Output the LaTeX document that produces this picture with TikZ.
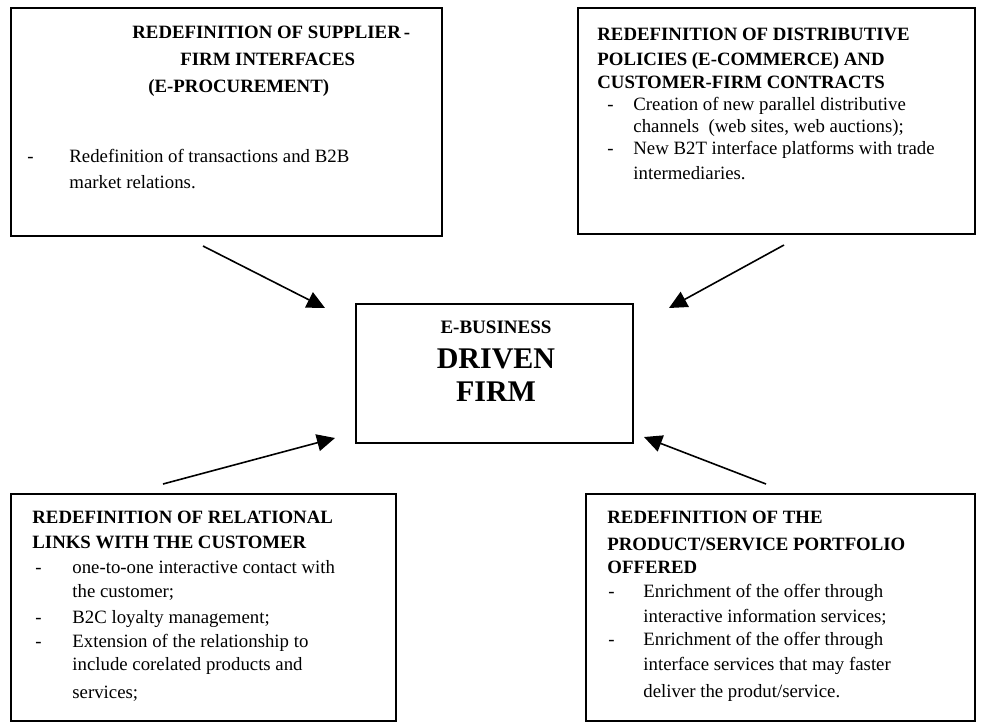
\documentclass[tikz,border=0pt]{standalone}
\usepackage{fontspec}
\setmainfont{Liberation Serif}
\usetikzlibrary{arrows.meta,fit}
\begin{document}
\begin{tikzpicture}[x=0.5pt,y=-0.5pt,
  box/.style={draw, line width=0.9pt, inner sep=0pt},
  ttl/.style={anchor=base west, inner sep=0pt, font=\fontsize{9.4}{11}\selectfont\bfseries},
  txt/.style={anchor=base west, inner sep=0pt, font=\fontsize{9.4}{11}\selectfont},
  ctl/.style={anchor=base, inner sep=0pt, font=\fontsize{9.5}{11}\selectfont\bfseries},
  big/.style={anchor=base, inner sep=0pt, font=\fontsize{15}{17}\selectfont\bfseries},
  arr/.style={line width=0.8pt, -{Triangle[length=9pt,width=8.5pt]}}]
\useasboundingbox (0,0) rectangle (986,724);
% boxes
\node[box, fit={(11,8) (442,236)}] (tl) {};
\node[box, fit={(578,8) (975,234)}] (tr) {};
\node[box, fit={(356,304) (633,443)}] (c) {};
\node[box, fit={(11,494) (396,721)}] (bl) {};
\node[box, fit={(586,494) (975,721)}] (br) {};
% top-left text
\node[ttl] (tl1) at (132,38) {REDEFINITION OF SUPPLIER\,-};
\node[ttl] (tl2) at (180,65) {FIRM INTERFACES};
\node[ttl] (tl3) at (148,92) {(E-PROCUREMENT)};
\node[txt] (tld1) at (27,162) {-};
\node[txt] (tlt1) at (69,162) {Redefinition of transactions and B2B};
\node[txt] (tlt2) at (69,188) {market relations.};
% top-right text
\node[ttl] (tr1) at (597,40) {REDEFINITION OF DISTRIBUTIVE};
\node[ttl] (tr2) at (597,65) {POLICIES (E-COMMERCE) AND};
\node[ttl] (tr3) at (597,88) {CUSTOMER-FIRM CONTRACTS};
\node[txt] (trd1) at (607,110) {-};
\node[txt] (trt1) at (633,110) {Creation of new parallel distributive};
\node[txt] (trt2) at (633,132) {channels\ \ (web sites, web auctions);};
\node[txt] (trd2) at (607,154) {-};
\node[txt] (trt3) at (633,154) {New B2T interface platforms with trade};
\node[txt] (trt4) at (633,179) {intermediaries.};
% centre text
\node[ctl] (c1) at (496,333) {E-BUSINESS};
\node[big] (c2) at (496,368) {DRIVEN};
\node[big] (c3) at (496,401) {FIRM};
% bottom-left text
\node[ttl] (bl1) at (32,523) {REDEFINITION OF RELATIONAL};
\node[ttl] (bl2) at (32,548) {LINKS WITH THE CUSTOMER};
\node[txt] (bld1) at (35,573) {-};
\node[txt] (blt1) at (72,573) {one-to-one interactive contact with};
\node[txt] (blt2) at (72,597) {the customer;};
\node[txt] (bld2) at (35,623) {-};
\node[txt] (blt3) at (72,623) {B2C loyalty management;};
\node[txt] (bld3) at (35,647) {-};
\node[txt] (blt4) at (72,647) {Extension of the relationship to};
\node[txt] (blt5) at (72,670) {include corelated products and};
\node[txt] (blt6) at (72,698) {services;};
% bottom-right text
\node[ttl] (br1) at (607,523) {REDEFINITION OF THE};
\node[ttl] (br2) at (607,550) {PRODUCT/SERVICE PORTFOLIO};
\node[ttl] (br3) at (607,573) {OFFERED};
\node[txt] (brd1) at (608,597) {-};
\node[txt] (brt1) at (643,597) {Enrichment of the offer through};
\node[txt] (brt2) at (643,622) {interactive information services;};
\node[txt] (brd2) at (608,645) {-};
\node[txt] (brt3) at (643,645) {Enrichment of the offer through};
\node[txt] (brt4) at (643,670) {interface services that may faster};
\node[txt] (brt5) at (643,697) {deliver the produt/service.};
% arrows
\coordinate (aTLs) at (203,246); \coordinate (aTLe) at (325,308);
\coordinate (aTRs) at (784,245); \coordinate (aTRe) at (669,308);
\coordinate (aBLs) at (163,484); \coordinate (aBLe) at (335,438);
\coordinate (aBRs) at (766,484); \coordinate (aBRe) at (644,437);
\draw[arr] (aTLs) -- (aTLe);
\draw[arr] (aTRs) -- (aTRe);
\draw[arr] (aBLs) -- (aBLe);
\draw[arr] (aBRs) -- (aBRe);
\end{tikzpicture}
\end{document}
